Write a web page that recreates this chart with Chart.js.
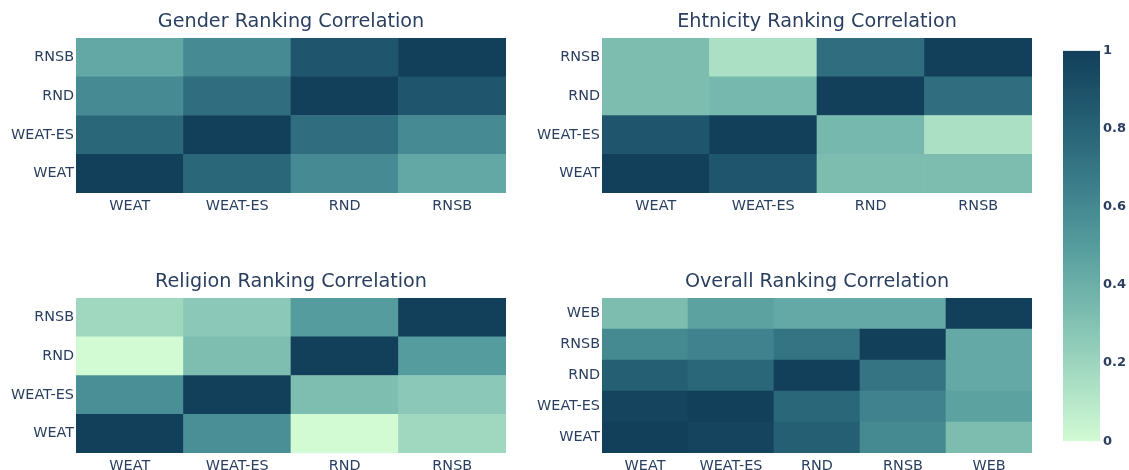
<!DOCTYPE html>
<html>
<head>
<meta charset="utf-8">
<script src="https://cdn.jsdelivr.net/npm/chart.js@4.4.0/dist/chart.umd.min.js"></script>
<style>
  body { margin: 0; background: #fff; }
  #wrap { position: relative; width: 1129px; height: 470px; overflow: hidden; }
  canvas { position: absolute; }
</style>
</head>
<body>
<div id="wrap">
  <canvas id="gender"></canvas>
  <canvas id="ethnicity"></canvas>
  <canvas id="religion"></canvas>
  <canvas id="overall"></canvas>
  <canvas id="colorbar"></canvas>
</div>
<script>
// Row/column labels (rows listed bottom to top)
var groupLabels = ['WEAT', 'WEAT-ES', 'RND', 'RNSB'];
var overallLabels = ['WEAT', 'WEAT-ES', 'RND', 'RNSB', 'WEB'];

// Correlation matrices, row i = groupLabels[i]
var genderValues = [
  [1.00, 0.78, 0.59, 0.44],
  [0.78, 1.00, 0.74, 0.59],
  [0.59, 0.74, 1.00, 0.87],
  [0.44, 0.59, 0.87, 1.00]
];
var ethnicityValues = [
  [1.00, 0.87, 0.33, 0.33],
  [0.87, 1.00, 0.355, 0.14],
  [0.33, 0.355, 1.00, 0.74],
  [0.33, 0.14, 0.74, 1.00]
];
var religionValues = [
  [1.00, 0.57, 0.00, 0.19],
  [0.57, 1.00, 0.32, 0.27],
  [0.00, 0.32, 1.00, 0.50],
  [0.19, 0.27, 0.50, 1.00]
];
var overallValues = [
  [1.00, 0.97, 0.82, 0.60, 0.33],
  [0.97, 1.00, 0.78, 0.63, 0.47],
  [0.82, 0.78, 1.00, 0.71, 0.43],
  [0.60, 0.63, 0.71, 1.00, 0.43],
  [0.33, 0.47, 0.43, 0.43, 1.00]
];

// Colour bar range
var colorbarRange = [0, 1];

// Plotly "darkmint" scale
var scaleColors = ['#d2fbd4', '#a5dbc2', '#7bbcb0', '#559c9e', '#3a7c89', '#235d72', '#123f5a'];

var fontFamily = '"DejaVu Sans", Verdana, sans-serif';
var fontColor = '#2a3f5f';
var titleSize = 19.2;
var tickSize = 14.4;

function hexToRgb(h) {
  return [parseInt(h.substr(1, 2), 16), parseInt(h.substr(3, 2), 16), parseInt(h.substr(5, 2), 16)];
}

// Map a value 0..1 to a colour on the scale
function colorFor(v) {
  let t = Math.max(0, Math.min(1, v)) * (scaleColors.length - 1);
  let i = Math.min(Math.floor(t), scaleColors.length - 2);
  let f = t - i;
  let a = hexToRgb(scaleColors[i]);
  let b = hexToRgb(scaleColors[i + 1]);
  let c = a.map((x, k) => Math.round(x + (b[k] - x) * f));
  return 'rgb(' + c.join(',') + ')';
}

var LEFT_PAD = 76, TOP_PAD = 38, BOTTOM_PAD = 30, RIGHT_PAD = 14;

// Heatmap made from stacked bars, one dataset per row
function drawHeatmap(id, title, labels, values, area) {
  let canvas = document.getElementById(id);
  canvas.width = area.w + LEFT_PAD + RIGHT_PAD;
  canvas.height = area.h + TOP_PAD + BOTTOM_PAD;
  canvas.style.left = (area.x - LEFT_PAD) + 'px';
  canvas.style.top = (area.y - TOP_PAD) + 'px';

  let datasets = values.map(function (row, r) {
    return {
      label: labels[r],
      data: row.map(() => 1),
      backgroundColor: row.map(colorFor),
      borderWidth: 0,
      barPercentage: 1,
      categoryPercentage: 1
    };
  });

  let titleTop = 10.5;
  new Chart(canvas, {
    type: 'bar',
    data: { labels: labels, datasets: datasets },
    options: {
      responsive: false,
      animation: false,
      layout: { padding: { right: RIGHT_PAD } },
      plugins: {
        legend: { display: false },
        tooltip: { enabled: false },
        title: {
          display: true,
          text: title,
          fullSize: false,
          color: fontColor,
          font: { family: fontFamily, size: titleSize, weight: 'normal', lineHeight: 1.2 },
          padding: { top: titleTop, bottom: TOP_PAD - titleTop - titleSize * 1.2 }
        }
      },
      scales: {
        x: {
          stacked: true,
          grid: { display: false, drawTicks: false },
          border: { display: false },
          ticks: { color: fontColor, font: { family: fontFamily, size: tickSize }, padding: 4.5, maxRotation: 0 },
          afterFit: function (s) { s.height = BOTTOM_PAD; }
        },
        y: {
          stacked: true,
          min: 0,
          max: labels.length,
          grid: { display: false, drawTicks: false },
          border: { display: false },
          afterBuildTicks: function (s) {
            s.ticks = labels.map((_, i) => ({ value: i + 0.5 }));
          },
          ticks: {
            color: fontColor,
            font: { family: fontFamily, size: tickSize },
            padding: 2,
            callback: function (v, i) { return labels[i]; }
          },
          afterFit: function (s) { s.width = LEFT_PAD; }
        }
      }
    }
  });
}

drawHeatmap('gender', 'Gender Ranking Correlation', groupLabels, genderValues,
  { x: 75.5, y: 38, w: 430.5, h: 155.7 });
drawHeatmap('ethnicity', 'Ehtnicity Ranking Correlation', groupLabels, ethnicityValues,
  { x: 601.7, y: 38, w: 430.6, h: 155.7 });
drawHeatmap('religion', 'Religion Ranking Correlation', groupLabels, religionValues,
  { x: 75.5, y: 297.7, w: 430.5, h: 155.6 });
drawHeatmap('overall', 'Overall Ranking Correlation', overallLabels, overallValues,
  { x: 601.7, y: 297.7, w: 430.6, h: 155.6 });

// Colour bar
var cb = document.getElementById('colorbar');
cb.width = 37 + 30;
cb.height = 392 + 20;
cb.style.left = '1063px';
cb.style.top = '40px';

new Chart(cb, {
  type: 'bar',
  data: {
    labels: [''],
    datasets: [{
      data: [colorbarRange],
      borderWidth: 0,
      barPercentage: 1,
      categoryPercentage: 1,
      backgroundColor: function (ctx) {
        let area = ctx.chart.chartArea;
        if (!area) return scaleColors[0];
        let g = ctx.chart.ctx.createLinearGradient(0, area.bottom, 0, area.top);
        scaleColors.forEach((c, i) => g.addColorStop(i / (scaleColors.length - 1), c));
        return g;
      }
    }]
  },
  options: {
    responsive: false,
    animation: false,
    layout: { padding: { top: 10, bottom: 10 } },
    plugins: { legend: { display: false }, tooltip: { enabled: false } },
    scales: {
      x: { display: false },
      y: {
        position: 'right',
        min: colorbarRange[0],
        max: colorbarRange[1],
        grid: { display: false, drawTicks: false },
        border: { display: false },
        ticks: {
          stepSize: 0.2,
          padding: 3,
          color: fontColor,
          font: { family: fontFamily, size: 13, weight: 'bold' },
          callback: function (v) { return String(Number(v.toFixed(1))); }
        },
        afterFit: function (s) { s.width = 30; }
      }
    }
  }
});
</script>
</body>
</html>
